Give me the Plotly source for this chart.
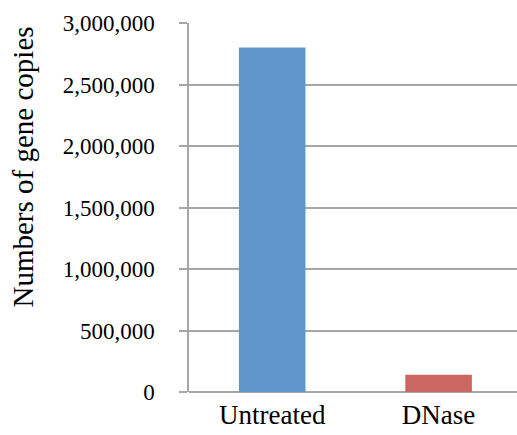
import plotly.graph_objects as go

# Gene copy numbers per treatment
categories = ["Untreated", "DNase"]
copies = [2800000, 140000]
bar_colors = ["#6096CC", "#CC6660"]

# Y axis ticks
tick_vals = [0, 500000, 1000000, 1500000, 2000000, 2500000, 3000000]
tick_text = ["0", "500,000", "1,000,000", "1,500,000", "2,000,000", "2,500,000", "3,000,000"]

W, H = 517, 435
ml, mt, mb, mr = 189, 23, 43, 0
plot_w = W - ml - mr

fig = go.Figure(
    go.Bar(
        x=categories,
        y=copies,
        width=0.4,
        marker=dict(color=bar_colors, line=dict(width=0)),
    )
)

grid = "#A6A6A6"
serif = "'Times New Roman', 'Liberation Serif', serif"
fig.update_layout(
    width=W,
    height=H,
    margin=dict(l=ml, r=mr, t=mt, b=mb, autoexpand=False),
    paper_bgcolor="white",
    plot_bgcolor="white",
    showlegend=False,
    font=dict(family=serif, color="black"),
    xaxis=dict(
        range=[-0.5, -0.5 + plot_w / 166.4],
        showgrid=False,
        showline=False,
        ticks="",
        tickfont=dict(family=serif, size=27, color="black"),
        ticklabelstandoff=4,
    ),
    yaxis=dict(
        range=[0, 3000000],
        tickmode="array",
        tickvals=tick_vals,
        ticktext=tick_text,
        showgrid=True,
        gridcolor=grid,
        gridwidth=1.5,
        zeroline=True,
        zerolinecolor=grid,
        zerolinewidth=1.5,
        showline=True,
        linecolor=grid,
        linewidth=1.5,
        ticks="outside",
        ticklen=8,
        tickcolor=grid,
        tickwidth=1.5,
        tickfont=dict(family=serif, size=23, color="black"),
        ticklabelstandoff=20,
    ),
    annotations=[
        dict(
            text="Numbers of gene copies",
            textangle=-90,
            xref="paper",
            yref="paper",
            x=(22.5 - ml) / plot_w,
            y=(H - mb - 167) / (H - mt - mb),
            xanchor="center",
            yanchor="middle",
            showarrow=False,
            font=dict(family=serif, size=29, color="black"),
        )
    ],
)

fig.write_html("out.html")
